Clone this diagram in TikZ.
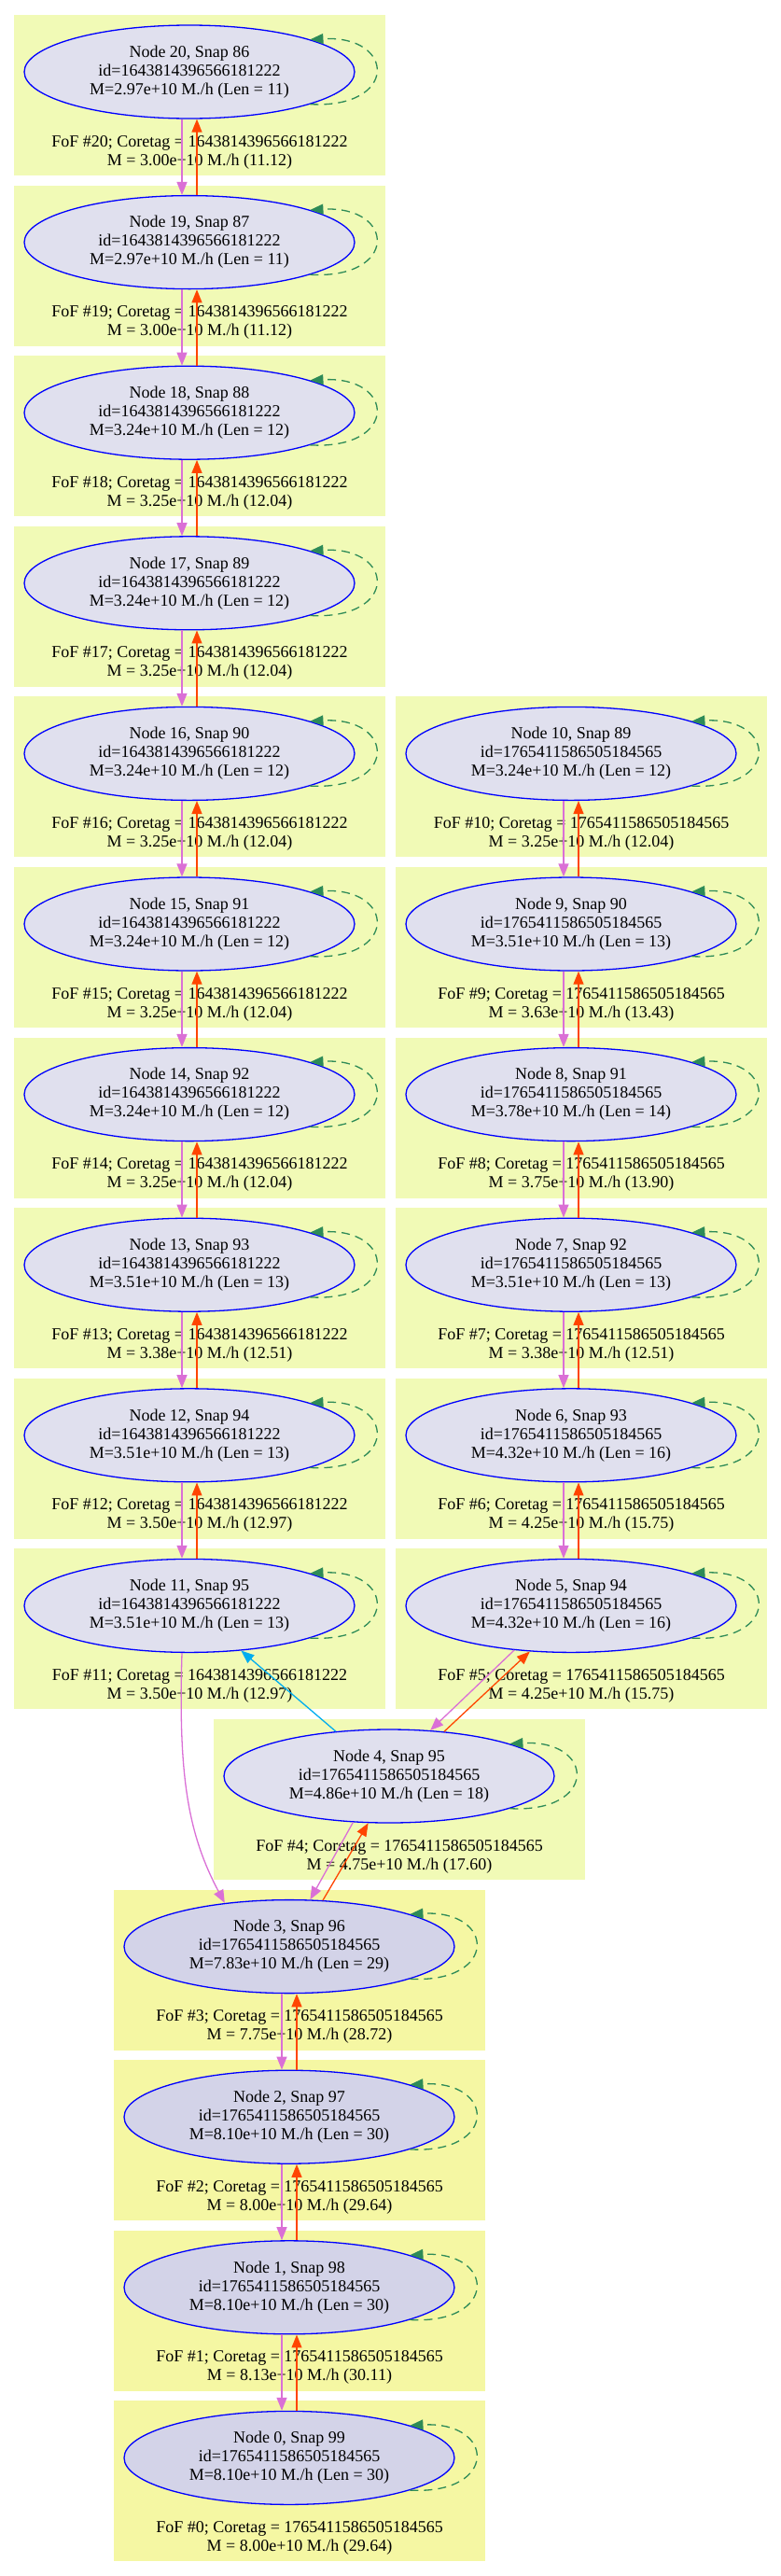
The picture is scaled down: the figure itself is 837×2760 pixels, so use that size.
\documentclass[tikz,border=0pt]{standalone}
\usepackage{fontspec}
\setmainfont{Liberation Serif}
\usetikzlibrary{arrows.meta,shapes.geometric}
\definecolor{fofgreen}{RGB}{241,250,182}
\definecolor{fofyellow}{RGB}{245,247,163}
\definecolor{halolight}{RGB}{224,224,238}
\definecolor{halodark}{RGB}{211,211,232}
\definecolor{progcol}{RGB}{218,112,214}
\definecolor{desccol}{RGB}{255,69,0}
\definecolor{loopcol}{RGB}{46,139,87}
% one FoF cluster: left x, row, node, snap, M, Len, FoF M, ratio, id
\newcommand{\fof}[9]{%
  \fill[fofbox] (#1,16+182.6*#2) rectangle +(398,172);
  \node[halo] (n#3) at (#1+188,77+182.6*#2) {Node #3, Snap #4\\id=#9\\M=#5e+10 M./h (Len = #6)};
  \node[foflabel] at (#1+199,163+182.6*#2) {FoF \##3; Coretag = #9\\M = #7e+10 M./h (#8)};
  \draw[self] (n#3.-15) .. controls +(95,5) and +(92,-5) .. (n#3.15);
}
\begin{document}
\begin{tikzpicture}[x=1pt,y=-1pt,>={Triangle[length=14pt,width=11pt]},line width=1.3pt,
  font=\fontsize{18}{20}\selectfont,
  fofbox/.style={fill=fofgreen},
  halofill/.style={fill=halolight},
  halo/.style={ellipse,draw=blue,halofill,minimum width=354pt,minimum height=100pt,inner sep=0pt,align=center},
  foflabel/.style={align=center,inner sep=0pt},
  down/.style={->,draw=progcol},
  up/.style={->,draw=desccol},
  self/.style={->,draw=loopcol,dash pattern=on 9pt off 6pt}]
  \useasboundingbox (0,0) rectangle (837,2760);
  % left column
  \foreach \n/\s/\m/\l/\f/\r [count=\i from 0] in {20/86/2.97/11/3.00/11.12,19/87/2.97/11/3.00/11.12,
      18/88/3.24/12/3.25/12.04,17/89/3.24/12/3.25/12.04,16/90/3.24/12/3.25/12.04,15/91/3.24/12/3.25/12.04,
      14/92/3.24/12/3.25/12.04,13/93/3.51/13/3.38/12.51,12/94/3.51/13/3.50/12.97,11/95/3.51/13/3.50/12.97}
    \fof{15}{\i}{\n}{\s}{\m}{\l}{\f}{\r}{1643814396566181222};
  % right column and node 4
  \foreach \L/\i/\n/\s/\m/\l/\f/\r in {424/4/10/89/3.24/12/3.25/12.04,424/5/9/90/3.51/13/3.63/13.43,
      424/6/8/91/3.78/14/3.75/13.90,424/7/7/92/3.51/13/3.38/12.51,424/8/6/93/4.32/16/4.25/15.75,
      424/9/5/94/4.32/16/4.25/15.75,229/10/4/95/4.86/18/4.75/17.60}
    \fof{\L}{\i}{\n}{\s}{\m}{\l}{\f}{\r}{1765411586505184565};
  % main branch
  \begin{scope}[fofbox/.style={fill=fofyellow},halofill/.style={fill=halodark}]
    \foreach \n/\s/\m/\l/\f/\r [count=\i from 11] in {3/96/7.83/29/7.75/28.72,2/97/8.10/30/8.00/29.64,
        1/98/8.10/30/8.13/30.11,0/99/8.10/30/8.00/29.64}
      \fof{122}{\i}{\n}{\s}{\m}{\l}{\f}{\r}{1765411586505184565};
  \end{scope}
  % links
  \foreach \a [evaluate=\a as \b using int(\a-1)] in {20,...,12,10,9,...,6,3,2,1}{
    \draw[down] ([xshift=-8pt]n\a.south) -- ([xshift=-8pt]n\b.north);
    \draw[up] ([xshift=8pt]n\b.north) -- ([xshift=8pt]n\a.south);
  }
  \draw[down] (n5.218) -- (n4.48);
  \draw[up] (n4.39) -- (n5.228);
  \draw[down] (n4.232) -- (n3.66);
  \draw[up] (n3.54) -- (n4.246);
  \draw[->,draw=cyan] (n4.140) -- (n11.319);
  \draw[down] ([xshift=-8pt]n11.south) .. controls +(-4,130) and +(-40,-75) .. (n3.146);
\end{tikzpicture}
\end{document}
